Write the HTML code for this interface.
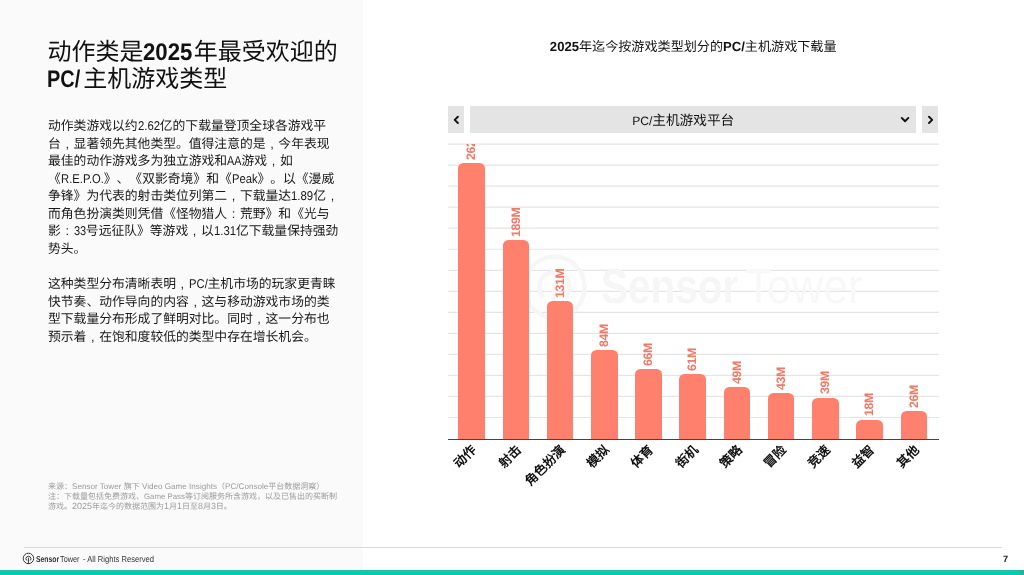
<!DOCTYPE html>
<html lang="zh-CN">
<head>
<meta charset="utf-8">
<title>Slide</title>
<style>
*{margin:0;padding:0;box-sizing:border-box}
html,body{width:1024px;height:575px;overflow:hidden;background:#fff}
body{font-family:"Liberation Sans",sans-serif;color:#111;position:relative;text-spacing-trim:space-all;text-rendering:geometricPrecision}
.abs{position:absolute}
#layer{position:absolute;left:0;top:0;width:1024px;height:575px;will-change:transform}
.l{display:inline-block;transform-origin:0 50%;line-height:0}
.c{display:inline-block;width:1em;text-align:center;font-style:normal;line-height:0}
#panel{left:0;top:0;width:363px;height:570px;background:#fafafa}
#teal{left:0;top:570px;width:1024px;height:5px;background:#04cbb4;border-top:1px solid #22c0ab}
#fline{left:23.5px;top:546.8px;width:978.5px;height:1px;background:#dadada}
#title{left:47.4px;top:39px;font-size:24px;line-height:27px;color:#111;white-space:nowrap}
#title b{font-weight:700;font-size:24px;display:inline-block;transform-origin:0 50%;line-height:0}
#title b.n{transform:scaleX(.925);margin-right:-3.0px}
#title b.p{transform:scaleX(.83);margin-right:-4.1px}
#body{left:48px;top:117.2px;font-size:12.81px;line-height:17.55px;color:#181818;white-space:nowrap}
#src{left:48px;top:481.9px;font-size:8px;line-height:10px;color:#9c9c9c;white-space:nowrap}
#src span{font-size:1.016em;line-height:0}
#src span.d{font-size:1.12em}
#src span.gp{font-size:.98em}
#src i{font-style:normal}
#ctitle{left:443.2px;top:39px;width:500px;text-align:center;font-size:13.1px;line-height:16px;color:#111;white-space:nowrap}
#foot span{position:absolute;top:553px;font-size:8.7px;line-height:12px;color:#333;white-space:nowrap;transform-origin:0 50%}
#pg{left:1003px;top:553px;font-size:9.2px;line-height:12px;font-weight:700;color:#222}
.btn{position:absolute;background:#e4e4e4;top:106px;height:27px}
#dd{left:469.5px;width:446.7px}
#ddt{position:absolute;left:469.5px;top:106.7px;width:427.4px;height:27px;line-height:27px;text-align:center;font-size:13.65px;color:#111;white-space:nowrap}
#axis{left:447.5px;top:438.5px;width:491.3px;height:1.3px;background:#444}
.bar{position:absolute;width:26.6px;background:#ff806c;border-radius:5.5px 5.5px 0 0}
#clip{position:absolute;left:440px;top:144px;width:520px;height:400px;overflow:hidden}
#clip>div.in{position:absolute;left:-440px;top:-144px}
.vl{position:absolute;width:0;height:0}
.vl span{position:absolute;left:0;top:0;transform-origin:0 0;transform:rotate(-90deg) translateY(-50%);white-space:nowrap;font-size:12.3px;letter-spacing:-.3px;line-height:12px;font-weight:700;color:#ee7a68}
.xl{position:absolute;width:0;height:0}
.xl span{position:absolute;right:0;top:0;transform-origin:100% 50%;transform:translateY(-50%) rotate(-45deg);white-space:nowrap;font-size:12.6px;line-height:12.6px;font-weight:700;color:#111}
#wm span{position:absolute;top:259px;font-size:48.6px;line-height:56px;color:#f6f6f6;white-space:nowrap;transform-origin:0 50%}
</style>
</head>
<body>
<div id="panel" class="abs"></div>
<div id="layer">
<div id="title" class="abs">动作类是<b class="n">2025</b>年最受欢迎的<br><b class="p">PC/</b>主机游戏类型</div>
<div id="body" class="abs">动作类游戏以约<span class="l" style="transform:scaleX(0.89);margin-right:-2.75px">2.62</span>亿的下载量登顶全球各游戏平<br>台<i class="c">,</i>显著领先其他类型。值得注意的是<i class="c">,</i>今年表现<br>最佳的动作游戏多为独立游戏和<span class="l" style="transform:scaleX(0.84);margin-right:-2.74px">AA</span>游戏<i class="c">,</i>如<br>《<span class="l" style="transform:scaleX(0.88);margin-right:-5.88px">R.E.P.O.</span>》、《双影奇境》和《<span class="l" style="transform:scaleX(0.88);margin-right:-3.51px">Peak</span>》。以《漫威<br>争锋》为代表的射击类位列第二<i class="c">,</i>下载量达<span class="l" style="transform:scaleX(0.89);margin-right:-2.75px">1.89</span>亿<i class="c">,</i><br>而角色扮演类则凭借《怪物猎人<i class="c">:</i>荒野》和《光与<br>影<i class="c">:</i><span class="l" style="transform:scaleX(0.86);margin-right:-2.00px">33</span>号远征队》等游戏<i class="c">,</i>以<span class="l" style="transform:scaleX(0.89);margin-right:-2.75px">1.31</span>亿下载量保持强劲<br>势头。<br><br>这种类型分布清晰表明<i class="c">,</i><span class="l" style="transform:scaleX(0.88);margin-right:-2.57px">PC/</span>主机市场的玩家更青睐<br>快节奏、动作导向的内容<i class="c">,</i>这与移动游戏市场的类<br>型下载量分布形成了鲜明对比。同时<i class="c">,</i>这一分布也<br>预示着<i class="c">,</i>在饱和度较低的类型中存在增长机会。</div>
<div id="src" class="abs">来源：<span>Sensor Tower</span> 旗下 <span>Video Game Insights</span>（<span>PC/Console</span>平台数据洞察）<br>注：下载量包括免费游戏、<span class="gp">Game Pass</span>等订阅服务所含游戏，以及已售出的买断制<br>游戏<i>。</i><span class="d">2025</span>年迄今的数据范围为<span class="d">1</span>月<span class="d">1</span>日至<span class="d">8</span>月<span class="d">3</span>日。</div>
<div id="ctitle" class="abs"><b>2025</b>年迄今按游戏类型划分的<b>PC/</b>主机游戏下载量</div>

<div class="btn" style="left:448px;width:16px"></div>
<div class="btn" id="dd"></div>
<div class="btn" style="left:922.4px;width:16.1px"></div>
<div id="ddt"><span style="font-size:.885em">PC/</span>主机游戏平台</div>
<svg class="abs" style="left:0;top:0" width="1024" height="575" viewBox="0 0 1024 575" fill="none" stroke="#111" stroke-width="1.9" stroke-linecap="round" stroke-linejoin="round">
<path d="M457.9 116.7 L454.7 119.85 L457.9 123"/>
<path d="M929 116.7 L932.2 119.85 L929 123"/>
<path d="M901.75 117.95 L905.05 121.25 L908.35 117.95"/>
</svg>

<div id="chart">
<svg class="abs" style="left:0;top:0" width="1024" height="575" viewBox="0 0 1024 575" stroke="#e5e5e5" stroke-width="1.2"><path d="M448 144.10H939"/><path d="M448 165.13H939"/><path d="M448 186.16H939"/><path d="M448 207.19H939"/><path d="M448 228.22H939"/><path d="M448 249.25H939"/><path d="M448 270.28H939"/><path d="M448 291.31H939"/><path d="M448 312.34H939"/><path d="M448 333.37H939"/><path d="M448 354.40H939"/><path d="M448 375.43H939"/><path d="M448 396.46H939"/><path d="M448 417.49H939"/></svg>
<svg class="abs" style="left:0;top:0" width="1024" height="575" viewBox="0 0 1024 575" fill="none" stroke="#f6f6f6" stroke-width="4.4">
<circle cx="554.3" cy="287.1" r="30.3"/>
<path d="M543.8 297.8 A15 15 0 1 1 564.8 297.8"/>
<path d="M554.3 283 V318"/>
</svg>
<div id="wm"><span style="left:600.5px;font-weight:700;transform:scaleX(.834)">Sensor</span><span style="left:745px;transform:scaleX(.907);color:#f8f8f8">Tower</span></div>
<div id="clip"><div class="in"><div class="vl" style="left:471.30px;top:160.00px"><span>262M</span></div><div class="vl" style="left:515.52px;top:236.65px"><span>189M</span></div><div class="vl" style="left:559.74px;top:297.55px"><span>131M</span></div><div class="vl" style="left:603.96px;top:346.90px"><span>84M</span></div><div class="vl" style="left:648.18px;top:365.80px"><span>66M</span></div><div class="vl" style="left:692.40px;top:371.05px"><span>61M</span></div><div class="vl" style="left:736.62px;top:383.65px"><span>49M</span></div><div class="vl" style="left:780.84px;top:389.95px"><span>43M</span></div><div class="vl" style="left:825.06px;top:394.15px"><span>39M</span></div><div class="vl" style="left:869.28px;top:416.20px"><span>18M</span></div><div class="vl" style="left:913.50px;top:407.80px"><span>26M</span></div></div></div>
<div class="bar" style="left:458.30px;top:163.40px;height:275.90px"></div><div class="bar" style="left:502.52px;top:240.05px;height:199.25px"></div><div class="bar" style="left:546.74px;top:300.95px;height:138.35px"></div><div class="bar" style="left:590.96px;top:350.30px;height:89.00px"></div><div class="bar" style="left:635.18px;top:369.20px;height:70.10px"></div><div class="bar" style="left:679.40px;top:374.45px;height:64.85px"></div><div class="bar" style="left:723.62px;top:387.05px;height:52.25px"></div><div class="bar" style="left:767.84px;top:393.35px;height:45.95px"></div><div class="bar" style="left:812.06px;top:397.55px;height:41.75px"></div><div class="bar" style="left:856.28px;top:419.60px;height:19.70px"></div><div class="bar" style="left:900.50px;top:411.20px;height:28.10px"></div>
<div id="axis" class="abs"></div>
<div class="xl" style="left:474.60px;top:447.7px"><span>动作</span></div><div class="xl" style="left:518.82px;top:447.7px"><span>射击</span></div><div class="xl" style="left:563.04px;top:447.7px"><span>角色扮演</span></div><div class="xl" style="left:607.26px;top:447.7px"><span>模拟</span></div><div class="xl" style="left:651.48px;top:447.7px"><span>体育</span></div><div class="xl" style="left:695.70px;top:447.7px"><span>街机</span></div><div class="xl" style="left:739.92px;top:447.7px"><span>策略</span></div><div class="xl" style="left:784.14px;top:447.7px"><span>冒险</span></div><div class="xl" style="left:828.36px;top:447.7px"><span>竞速</span></div><div class="xl" style="left:872.58px;top:447.7px"><span>益智</span></div><div class="xl" style="left:916.80px;top:447.7px"><span>其他</span></div>
</div>

<div id="fline" class="abs"></div>
<div id="foot"><span style="left:36.3px;font-weight:700;transform:scaleX(.784)">Sensor</span><span style="left:60.2px;transform:scaleX(.841)">Tower</span><span style="left:83px;transform:scaleX(.875)">- All Rights Reserved</span></div>
<svg class="abs" style="left:0;top:0" width="1024" height="575" viewBox="0 0 1024 575" fill="none" stroke="#333" stroke-width="1" stroke-linecap="butt">
<circle cx="28.45" cy="558.45" r="5.25"/>
<path d="M26.68 560.5 A2.5 2.5 0 1 1 30.22 560.5" stroke-width="1"/>
<path d="M28.45 557.7 V563.7" stroke-width="1"/>
</svg>
<div id="pg" class="abs">7</div>
</div>
<div id="teal" class="abs"></div><div class="abs" style="left:1020px;top:570px;width:4px;height:5px;background:#1fb3a3"></div>
</body>
</html>
